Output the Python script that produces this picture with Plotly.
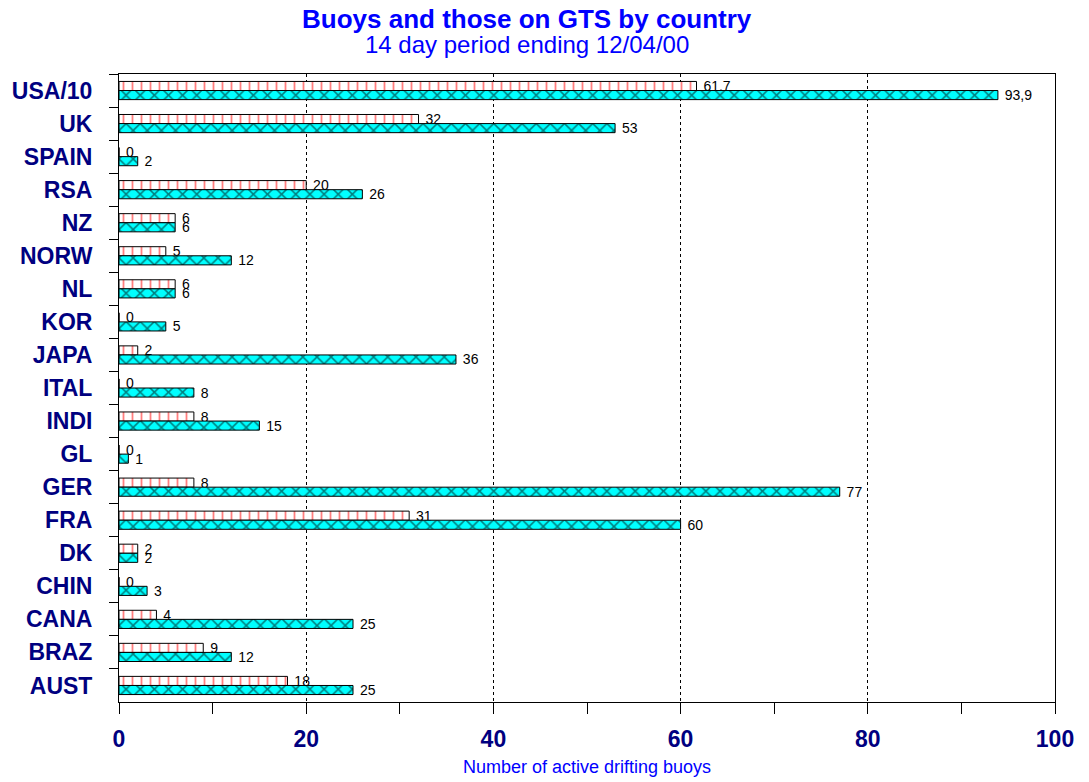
import plotly.graph_objects as go

# Categories listed top-to-bottom as in the chart
countries = ["USA/10", "UK", "SPAIN", "RSA", "NZ", "NORW", "NL", "KOR", "JAPA",
             "ITAL", "INDI", "GL", "GER", "FRA", "DK", "CHIN", "CANA", "BRAZ", "AUST"]
on_gts = [61.7, 32, 0, 20, 6, 5, 6, 0, 2, 0, 8, 0, 8, 31, 2, 0, 4, 9, 18]
total_buoys = [93.9, 53, 2, 26, 6, 12, 6, 5, 36, 8, 15, 1, 77, 60, 2, 3, 25, 12, 25]

title_text = "Buoys and those on GTS by country"
subtitle_text = "14 day period ending 12/04/00"
x_title = "Number of active drifting buoys"


def fmt(v):
    # European decimal comma, small gap from the bar end
    return "\u00a0" + f"{v:g}".replace(".", ",")


FONT = "Liberation Sans, Arial, sans-serif"

fig = go.Figure()
fig.add_trace(go.Bar(
    y=countries, x=on_gts, orientation="h", name="On GTS",
    text=[fmt(v) for v in on_gts], textposition="outside",
    textfont=dict(family=FONT, size=14, color="black"),
    constraintext="none", cliponaxis=False,
    marker=dict(color="white",
                line=dict(color="black", width=1),
                pattern=dict(shape="|", fgcolor="#FF0000", bgcolor="white",
                             size=9, solidity=0.2, fillmode="overlay")),
))
fig.add_trace(go.Bar(
    y=countries, x=total_buoys, orientation="h", name="Total",
    text=[fmt(v) for v in total_buoys], textposition="outside",
    textfont=dict(family=FONT, size=14, color="black"),
    constraintext="none", cliponaxis=False,
    marker=dict(color="#00FFFF",
                line=dict(color="black", width=1),
                pattern=dict(shape="x", fgcolor="black", bgcolor="#00FFFF",
                             size=10, solidity=0.28, fillmode="overlay")),
))

fig.update_layout(
    width=1089, height=782,
    margin=dict(l=119, r=34, t=74, b=80, pad=0, autoexpand=False),
    paper_bgcolor="white", plot_bgcolor="white",
    barmode="group", bargap=0.45, bargroupgap=0,
    showlegend=False,
    font=dict(family=FONT, color="black"),
    xaxis=dict(
        range=[0, 100], tick0=0, dtick=20, automargin=False,
        showgrid=True, gridcolor="black", griddash="3px,3px", gridwidth=1,
        zeroline=False,
        showline=True, linecolor="black", linewidth=1, mirror=True,
        ticks="outside", ticklen=11, tickcolor="black", tickwidth=1,
        ticklabelstandoff=5,
        tickfont=dict(family=FONT, size=23, color="#000080", weight="bold"),
        minor=dict(dtick=10, ticks="outside", ticklen=11, tickcolor="black",
                   showgrid=False),
    ),
    yaxis=dict(
        autorange="reversed", type="category", automargin=False,
        showgrid=False, zeroline=False,
        showline=True, linecolor="black", linewidth=1, mirror=True,
        ticks="outside", tickson="boundaries", ticklen=9, tickcolor="black",
        ticklabelstandoff=21,
        tickfont=dict(family=FONT, size=23, color="#000080", weight="bold"),
    ),
    annotations=[
        dict(text=f"<b>{title_text}</b>", xref="paper", yref="paper",
             x=0.436, y=1.0875, xanchor="center", yanchor="middle",
             showarrow=False, font=dict(family=FONT, size=26, color="#0000FF")),
        dict(text=subtitle_text, xref="paper", yref="paper",
             x=0.436, y=1.047, xanchor="center", yanchor="middle",
             showarrow=False, font=dict(family=FONT, size=24, color="#0000FF")),
        dict(text=x_title, xref="paper", yref="paper",
             x=0.5, y=-0.1035, xanchor="center", yanchor="middle",
             showarrow=False, font=dict(family=FONT, size=18, color="#0000FF")),
    ],
)

fig.write_html("out.html",
               config={"displayModeBar": False},
               post_script="document.body.style.margin='0';")
